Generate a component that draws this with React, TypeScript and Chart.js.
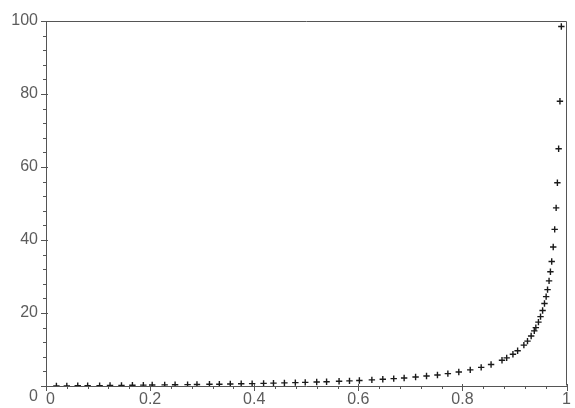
import React, { useEffect, useRef } from "react";
import { Chart, registerables } from "chart.js";

Chart.register(...registerables);

const xValues = [
  0.02, 0.04, 0.061, 0.08, 0.103, 0.123, 0.145, 0.166, 0.187, 0.204, 0.228,
  0.248, 0.272, 0.29, 0.314, 0.333, 0.354, 0.375, 0.396, 0.418, 0.437, 0.458,
  0.479, 0.498, 0.52, 0.539, 0.563, 0.583, 0.602, 0.626, 0.647, 0.668, 0.688,
  0.71, 0.731, 0.752, 0.772, 0.793, 0.815, 0.836, 0.855, 0.876, 0.885, 0.897,
  0.906, 0.918, 0.925, 0.932, 0.938, 0.941, 0.946, 0.95, 0.954, 0.9576,
  0.9608, 0.9635, 0.9664, 0.969, 0.9715, 0.9744, 0.9772, 0.98, 0.9824,
  0.9848, 0.9873, 0.99,
];
const yValues = [
  0.02, 0.04, 0.07, 0.09, 0.11, 0.14, 0.17, 0.2, 0.23, 0.26, 0.3, 0.33, 0.37,
  0.41, 0.46, 0.5, 0.55, 0.6, 0.66, 0.72, 0.78, 0.85, 0.92, 0.99, 1.08, 1.17,
  1.29, 1.4, 1.51, 1.67, 1.83, 2.01, 2.21, 2.45, 2.72, 3.03, 3.39, 3.83, 4.41,
  5.1, 5.9, 7.06, 7.7, 8.71, 9.64, 11.2, 12.3, 13.7, 15.1, 16.0, 17.5, 19.0,
  20.7, 22.6, 24.5, 26.4, 28.8, 31.3, 34.1, 38.1, 42.9, 48.8, 55.7, 65, 78,
  98.5,
];
const xTickLabels = ["0", "0.2", "0.4", "0.6", "0.8", "1"];
const yTickLabels = ["0", "20", "40", "60", "80", "100"];
const xMinorStep = 0.04;
const yMinorStep = 4;

const FONT = "'Liberation Sans', Arial, sans-serif";
const LABEL_COLOR = "#5c5c5c";
const AXIS_COLOR = "#555555";

function isMajor(v: number, labels: string[]) {
  return labels.some((l) => Math.abs(parseFloat(l) - v) < 1e-6);
}

const ticksPlugin = {
  id: "mapleTicks",
  afterDraw(chart: any) {
    const ctx = chart.ctx;
    const area = chart.chartArea;
    const xs = chart.scales.x;
    const ys = chart.scales.y;
    ctx.save();
    ctx.strokeStyle = AXIS_COLOR;
    ctx.lineWidth = 1;
    // frame
    ctx.beginPath();
    ctx.moveTo(Math.round(area.left) + 0.5, Math.round(area.top) + 0.5);
    ctx.lineTo(Math.round(area.right) - 0.5, Math.round(area.top) + 0.5);
    ctx.lineTo(Math.round(area.right) - 0.5, Math.round(area.bottom) - 0.5);
    ctx.stroke();
    // x ticks
    xs.ticks.forEach((t: any) => {
      const px = Math.round(xs.getPixelForValue(t.value)) + 0.5;
      const major = isMajor(t.value, xTickLabels);
      const len = major ? 5 : 3;
      ctx.beginPath();
      ctx.moveTo(px, area.bottom - (major ? 2 : 0));
      ctx.lineTo(px, area.bottom + len);
      ctx.stroke();
    });
    ys.ticks.forEach((t: any) => {
      const py = Math.round(ys.getPixelForValue(t.value)) + 0.5;
      const major = isMajor(t.value, yTickLabels);
      const len = major ? 5 : 3;
      ctx.beginPath();
      ctx.moveTo(area.left - len, py);
      ctx.lineTo(area.left + (major ? 2 : 0), py);
      ctx.stroke();
    });
    // y-axis "0" label, set lower than its tick as in the original
    ctx.fillStyle = LABEL_COLOR;
    ctx.font = `16px ${FONT}`;
    ctx.textAlign = "right";
    ctx.textBaseline = "middle";
    ctx.fillText(yTickLabels[0], area.left - 8, ys.getPixelForValue(0) + 11);
    ctx.restore();
  },
};

function buildTicks(min: number, max: number, step: number) {
  const out: { value: number }[] = [];
  const n = Math.round((max - min) / step);
  for (let i = 0; i <= n; i++) out.push({ value: +(min + i * step).toFixed(6) });
  return out;
}

export default function App() {
  const ref = useRef<HTMLCanvasElement | null>(null);
  useEffect(() => {
    document.body.style.margin = "0";
    const data = xValues.map((x, i) => ({ x, y: yValues[i] }));
    const chart = new Chart(ref.current as HTMLCanvasElement, {
      type: "scatter",
      data: {
        datasets: [
          {
            data,
            pointStyle: "cross",
            pointRadius: 3.2,
            borderColor: "#1a1a1a",
            backgroundColor: "#1a1a1a",
            borderWidth: 1.4,
            pointHoverRadius: 3.2,
          },
        ],
      },
      plugins: [ticksPlugin],
      options: {
        responsive: false,
        animation: false,
        events: [],
        layout: { padding: { top: 21, right: 3, left: 0, bottom: 0 } },
        plugins: { legend: { display: false }, tooltip: { enabled: false } },
        scales: {
          x: {
            type: "linear",
            min: 0,
            max: 1,
            afterBuildTicks: (s: any) => {
              s.ticks = buildTicks(0, 1, xMinorStep);
            },
            afterFit: (s: any) => {
              s.height = 22;
            },
            grid: { display: false, drawTicks: false },
            border: { display: true, color: AXIS_COLOR, width: 1 },
            ticks: {
              autoSkip: false,
              maxRotation: 0,
              padding: 4,
              color: LABEL_COLOR,
              font: { family: FONT, size: 16 },
              callback: (v: any) => {
                const lab = xTickLabels.find(
                  (l) => Math.abs(parseFloat(l) - Number(v)) < 1e-6
                );
                if (lab === "0") return "  0";
                return lab ?? "";
              },
            },
          },
          y: {
            type: "linear",
            min: 0,
            max: 100,
            afterBuildTicks: (s: any) => {
              s.ticks = buildTicks(0, 100, yMinorStep);
            },
            afterFit: (s: any) => {
              s.width = 46;
            },
            grid: { display: false, drawTicks: false },
            border: { display: true, color: AXIS_COLOR, width: 1 },
            ticks: {
              autoSkip: false,
              padding: 8,
              color: LABEL_COLOR,
              font: { family: FONT, size: 16 },
              callback: (v: any) => {
                const lab = yTickLabels.find(
                  (l) => Math.abs(parseFloat(l) - Number(v)) < 1e-6
                );
                if (lab === "0") return "";
                return lab ?? "";
              },
            },
          },
        },
      },
    });
    return () => chart.destroy();
  }, []);
  return (
    <div style={{ position: "absolute", left: 0, top: 0, width: 575, height: 408 }}>
      <canvas ref={ref} width={575} height={408} style={{ width: 575, height: 408 }} />
    </div>
  );
}
